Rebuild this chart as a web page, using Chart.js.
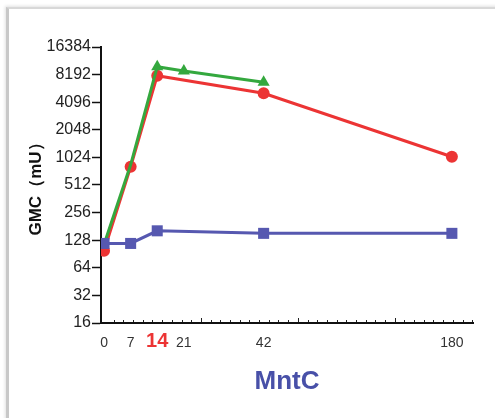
<!DOCTYPE html>
<html>
<head>
<meta charset="utf-8">
<script src="https://cdn.jsdelivr.net/npm/chart.js@4.4.1/dist/chart.umd.min.js"></script>
<style>
  html, body { margin: 0; padding: 0; background: #fff; }
  #wrap { position: relative; width: 495px; height: 418px; overflow: hidden; }
  #frame { position: absolute; left: 6px; top: 7px; right: -10px; bottom: -10px;
           border-top: 2px solid #d8d8d8; border-left: 3px solid #c8c8c8;
           box-shadow: -1px -1px 3px rgba(0,0,0,0.12); }
  canvas { position: absolute; left: 0; top: 0; }
</style>
</head>
<body>
<div id="wrap">
  <div id="frame"></div>
  <canvas id="c" width="495" height="418"></canvas>
</div>
<script>
// ---- data ----
const days        = [0, 7, 14, 21, 42, 180];          // x tick labels (days)
const tickLabels  = ['0', '7', '14', '21', '42', '180'];
const yTicks      = [16, 32, 64, 128, 256, 512, 1024, 2048, 4096, 8192, 16384];

const redDays     = [0, 7, 14, 42, 180];
const redValues   = [98, 810, 7970, 5120, 1040];

const greenDays   = [0, 7, 14, 21, 42];
const greenValues = [115, 850, 10000, 8960, 6750];

const blueDays    = [0, 7, 14, 42, 180];
const blueValues  = [118, 118, 162, 152, 152];

// broken x axis: linear up to day 42, compressed afterwards
const BREAK = 42, COMPRESS = 0.359;
function pos(d) { return d <= BREAK ? d : BREAK + (d - BREAK) * COMPRESS; }
function pts(xs, ys) { return xs.map((d, i) => ({ x: pos(d), y: ys[i] })); }

const RED = 'rgb(236,52,52)', GREEN = 'rgb(52,168,62)', BLUE = 'rgb(86,88,176)';
const FAM = 'Liberation Sans, Arial, sans-serif';

const minorTicks = {
  id: 'minorTicks',
  afterDraw(chart) {
    const xs = chart.scales.x, ctx = chart.ctx;
    const y0 = chart.chartArea.bottom;
    const step = 2.55;
    ctx.save();
    ctx.strokeStyle = '#222';
    ctx.lineWidth = 1;
    for (let i = 1; i * step <= xs.max; i++) {
      const px = Math.round(xs.getPixelForValue(i * step)) + 0.5;
      const len = (i % 10 === 0) ? 4 : 2;
      ctx.beginPath();
      ctx.moveTo(px, y0 - 1);
      ctx.lineTo(px, y0 - 1 - len);
      ctx.stroke();
    }
    ctx.restore();
  }
};

new Chart(document.getElementById('c'), {
  type: 'line',
  data: {
    datasets: [
      { label: 'blue', data: pts(blueDays, blueValues), borderColor: BLUE, backgroundColor: BLUE,
        borderWidth: 3, pointStyle: 'rect', pointRadius: 7.8, pointHoverRadius: 7.8, pointBorderWidth: 0 },
      { label: 'green', data: pts(greenDays, greenValues), borderColor: GREEN, backgroundColor: GREEN,
        borderWidth: 3, pointStyle: 'triangle', pointRadius: [0, 0, 7, 7, 7], pointBorderWidth: 0 },
      { label: 'red', data: pts(redDays, redValues), borderColor: RED, backgroundColor: RED,
        borderWidth: 3, pointStyle: 'circle', pointRadius: 6, pointBorderWidth: 0 }
    ]
  },
  options: {
    responsive: false,
    animation: false,
    layout: { padding: { left: 0, top: 47, right: 22, bottom: 0 } },
    plugins: { legend: { display: false }, tooltip: { enabled: false } },
    scales: {
      x: {
        type: 'linear',
        min: -0.8,
        max: 97.1,
        afterBuildTicks: s => { s.ticks = days.map(d => ({ value: pos(d) })); },
        afterFit: s => { s.height = 95; },
        grid: { display: true, drawOnChartArea: false, drawTicks: false },
        border: { display: true, color: '#111', width: 2 },
        ticks: {
          autoSkip: false,
          maxRotation: 0,
          padding: 6.5,
          callback: (v, i) => tickLabels[i],
          color: ctx => ctx.index === 2 ? RED : '#333',
          font: ctx => ctx.index === 2
            ? { family: FAM, size: 20, weight: 'bold', lineHeight: '24px' }
            : { family: FAM, size: 14, lineHeight: '27px' }
        },
        title: {
          display: true, text: 'MntC', color: 'rgb(72,80,168)',
          font: { family: FAM, size: 26, weight: 'bold' },
          padding: { top: 0, bottom: 21 }
        }
      },
      y: {
        type: 'logarithmic',
        min: 16,
        max: 16384,
        afterBuildTicks: s => { s.ticks = yTicks.map(v => ({ value: v })); },
        afterFit: s => { s.width = 101; },
        grid: { display: true, drawOnChartArea: false, drawTicks: true, tickLength: 9, tickColor: '#111', tickWidth: 1.5 },
        border: { display: true, color: '#111', width: 2 },
        ticks: {
          autoSkip: false,
          padding: 1,
          callback: v => String(v),
          color: '#222',
          font: { family: FAM, size: 16 }
        },
        title: {
          display: true, text: 'GMC（mU）', color: '#111',
          font: { family: FAM, size: 17, weight: 'bold' },
          padding: { top: 26, bottom: 0 }
        }
      }
    }
  },
  plugins: [minorTicks]
});
</script>
</body>
</html>
